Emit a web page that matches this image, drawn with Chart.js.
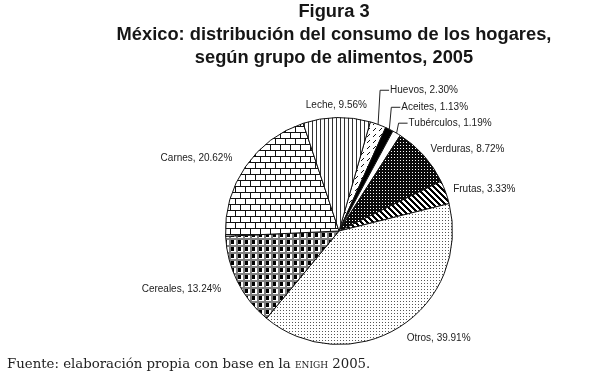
<!DOCTYPE html>
<html>
<head>
<meta charset="utf-8">
<script src="https://cdn.jsdelivr.net/npm/chart.js@4/dist/chart.umd.min.js"></script>
<style>
  html, body { margin: 0; padding: 0; background: #fff; }
  #wrap { position: relative; width: 607px; height: 378px; overflow: hidden; }
  #titulo { position: absolute; left: 334px; top: -1.5px; transform: translateX(-50%);
    font: bold 18.3px "Liberation Sans", Arial, sans-serif; line-height: 23.3px;
    text-align: center; color: #161616; white-space: nowrap; }
  #fuente { position: absolute; left: 7px; top: 356px; line-height: 15px;
    font: 13.3px "DejaVu Serif", "Liberation Serif", serif; color: #222; white-space: nowrap; }
  #fuente span { font-variant: small-caps; }
  canvas { position: absolute; left: 0; top: 0; }
</style>
</head>
<body>
<div id="wrap">
  <canvas id="grafica" width="607" height="378"></canvas>
  <div id="titulo">Figura 3<br>México: distribución del consumo de los hogares,<br>según grupo de alimentos, 2005</div>
  <div id="fuente">Fuente: elaboración propia con base en la <span>enigh</span> 2005.</div>
</div>
<script>
const categorias = ["Huevos", "Aceites", "Tubérculos", "Verduras", "Frutas", "Otros", "Cereales", "Carnes", "Leche"];
const porcentajes = [2.30, 1.13, 1.19, 8.72, 3.33, 39.91, 13.24, 20.62, 9.56];

// posicion de etiquetas (factor del radio), las chicas llevan linea guia
const etiquetas = [
  { guia: true, alto: 1.24 },
  { guia: true, alto: 1.09 },
  { guia: true, alto: 0.95 },
  { k: 1.08 },
  { k: 1.07 },
  { k: 1.12 },
  { k: 1.16 },
  { k: 1.14 },
  { k: 1.11 }
];

function tile(w, h, fn) {
  const c = document.createElement('canvas');
  c.width = w; c.height = h;
  const g = c.getContext('2d');
  fn(g);
  return document.getElementById('grafica').getContext('2d').createPattern(c, 'repeat');
}

const tramas = [
  // huevos: rayitas /
  tile(6, 6, g => {
    g.fillStyle = '#fff'; g.fillRect(0, 0, 6, 6);
    g.fillStyle = '#111';
    g.fillRect(1, 4, 1, 1); g.fillRect(2, 3, 1, 1); g.fillRect(3, 2, 1, 1);
  }),
  // aceites: negro
  tile(2, 2, g => { g.fillStyle = '#000'; g.fillRect(0, 0, 2, 2); }),
  // tuberculos: blanco
  tile(2, 2, g => { g.fillStyle = '#fff'; g.fillRect(0, 0, 2, 2); }),
  // verduras: negro con puntos blancos
  tile(3, 3, g => {
    g.fillStyle = '#0a0a0a'; g.fillRect(0, 0, 3, 3);
    g.fillStyle = '#fff'; g.fillRect(1, 1, 1, 1);
  }),
  // frutas: diagonales gruesas
  tile(6, 6, g => {
    g.fillStyle = '#fff'; g.fillRect(0, 0, 6, 6);
    g.fillStyle = '#000';
    for (let i = 0; i < 6; i++) {
      for (let j = 0; j < 3; j++) g.fillRect((i + j) % 6, i, 1, 1);
    }
  }),
  // otros: puntos finos
  tile(3, 3, g => {
    g.fillStyle = '#fff'; g.fillRect(0, 0, 3, 3);
    g.fillStyle = '#555'; g.fillRect(1, 1, 1, 1);
  }),
  // cereales: cuadros
  tile(7, 7, g => {
    g.fillStyle = '#fff'; g.fillRect(0, 0, 7, 7);
    g.fillStyle = '#808080'; g.fillRect(0, 0, 7, 2); g.fillRect(5, 0, 2, 7);
    g.fillStyle = '#000'; g.fillRect(0, 2, 3, 4);
  }),
  // carnes: ladrillos
  tile(10, 12, g => {
    g.fillStyle = '#fff'; g.fillRect(0, 0, 10, 12);
    g.fillStyle = '#111';
    g.fillRect(0, 0, 10, 1); g.fillRect(0, 6, 10, 1);
    g.fillRect(0, 0, 1, 6); g.fillRect(5, 6, 1, 6);
  }),
  // leche: verticales
  tile(4, 1, g => {
    g.fillStyle = '#fff'; g.fillRect(0, 0, 4, 1);
    g.fillStyle = '#333'; g.fillRect(0, 0, 1, 1);
  })
];

const etiquetasPlugin = {
  id: 'etiquetas',
  afterDraw(chart) {
    const ctx = chart.ctx;
    const arcs = chart.getDatasetMeta(0).data;
    ctx.save();
    ctx.font = '10px "Liberation Sans", Arial, sans-serif';
    ctx.fillStyle = '#222';
    ctx.strokeStyle = '#222';
    ctx.lineWidth = 1;
    ctx.textBaseline = 'middle';
    arcs.forEach((arc, i) => {
      const p = arc.getProps(['x', 'y', 'startAngle', 'endAngle', 'outerRadius'], true);
      const mid = (p.startAngle + p.endAngle) / 2;
      const c = Math.cos(mid), s = Math.sin(mid);
      const texto = categorias[i] + ', ' + porcentajes[i].toFixed(2) + '%';
      const e = etiquetas[i];
      if (e.guia) {
        const x0 = p.x + c * p.outerRadius, y0 = p.y + s * p.outerRadius;
        const ly = p.y - e.alto * p.outerRadius;
        ctx.beginPath();
        ctx.moveTo(x0, y0);
        ctx.lineTo(x0 + 2, ly);
        ctx.lineTo(x0 + 11, ly);
        ctx.stroke();
        ctx.textAlign = 'left';
        ctx.fillText(texto, x0 + 12, ly);
      } else {
        const r = p.outerRadius * e.k;
        ctx.textAlign = c > 0.2 ? 'left' : (c < -0.2 ? 'right' : 'center');
        ctx.fillText(texto, p.x + c * r, p.y + s * r);
      }
    });
    ctx.restore();
  }
};

new Chart(document.getElementById('grafica').getContext('2d'), {
  type: 'pie',
  data: {
    labels: categorias,
    datasets: [{
      data: porcentajes,
      backgroundColor: tramas,
      borderColor: '#111',
      borderWidth: 1
    }]
  },
  options: {
    responsive: false,
    animation: false,
    rotation: 16,
    layout: { padding: { left: 225, right: 154, top: 117, bottom: 33 } },
    plugins: {
      legend: { display: false },
      tooltip: { enabled: false },
      title: { display: false }
    }
  },
  plugins: [etiquetasPlugin]
});
</script>
</body>
</html>
